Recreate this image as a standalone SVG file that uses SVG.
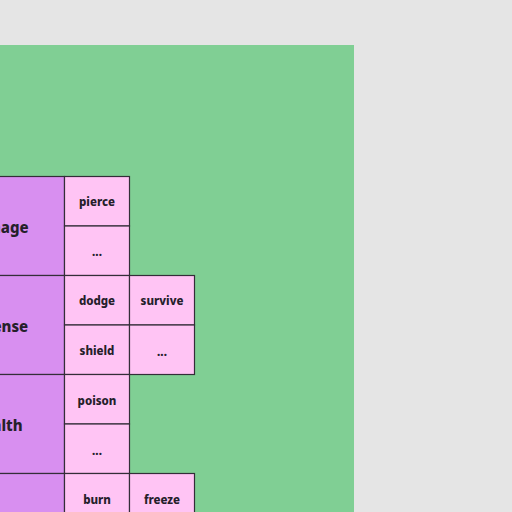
<svg xmlns="http://www.w3.org/2000/svg" width="512" height="512" viewBox="0 0 512 512">
<style>
.bg{fill:#e5e5e5}
.panel{fill:#80cf94}
.cat{fill:#d88ff0;stroke:#332e38;stroke-width:1.2}
.leaf{fill:#ffc4f4;stroke:#332e38;stroke-width:1.2}
.t1{font-family:"Noto Sans",sans-serif;font-weight:800;font-size:15px;fill:#25202a;text-anchor:middle;dominant-baseline:central}
.t2{font-family:"Noto Sans",sans-serif;font-weight:800;font-size:11.5px;fill:#25202a;text-anchor:middle;dominant-baseline:central}
</style>
<rect class="bg" x="0" y="0" width="512" height="512"/>
<rect class="panel" x="0" y="45" width="354" height="467"/>
<g id="damage">
<rect class="cat" x="-70" y="176.5" width="134.5" height="99"/>
<text class="t1" x="-2" y="227">damage</text>
</g>
<g id="pierce"><rect class="leaf" x="64.5" y="176.5" width="65" height="49.5"/><text class="t2" x="97" y="201.5">pierce</text></g>
<g id="damage-more"><rect class="leaf" x="64.5" y="226" width="65" height="49.5"/><text class="t2" x="97" y="251">...</text></g>
<g id="defense">
<rect class="cat" x="-70" y="275.5" width="134.5" height="99"/>
<text class="t1" x="-2" y="326">defense</text>
</g>
<g id="dodge"><rect class="leaf" x="64.5" y="275.5" width="65" height="49.5"/><text class="t2" x="97" y="300.5">dodge</text></g>
<g id="survive"><rect class="leaf" x="129.5" y="275.5" width="65" height="49.5"/><text class="t2" x="162" y="300.5">survive</text></g>
<g id="shield"><rect class="leaf" x="64.5" y="325" width="65" height="49.5"/><text class="t2" x="97" y="350.5">shield</text></g>
<g id="defense-more"><rect class="leaf" x="129.5" y="325" width="65" height="49.5"/><text class="t2" x="162" y="351">...</text></g>
<g id="health">
<rect class="cat" x="-70" y="374.5" width="134.5" height="99"/>
<text class="t1" x="-2" y="425">health</text>
</g>
<g id="poison"><rect class="leaf" x="64.5" y="374.5" width="65" height="49.5"/><text class="t2" x="97" y="400">poison</text></g>
<g id="health-more"><rect class="leaf" x="64.5" y="424" width="65" height="49.5"/><text class="t2" x="97" y="450">...</text></g>
<g id="element">
<rect class="cat" x="-70" y="473.5" width="134.5" height="99"/>
</g>
<g id="burn"><rect class="leaf" x="64.5" y="473.5" width="65" height="49.5"/><text class="t2" x="97" y="499">burn</text></g>
<g id="freeze"><rect class="leaf" x="129.5" y="473.5" width="65" height="49.5"/><text class="t2" x="162" y="499">freeze</text></g>
</svg>
